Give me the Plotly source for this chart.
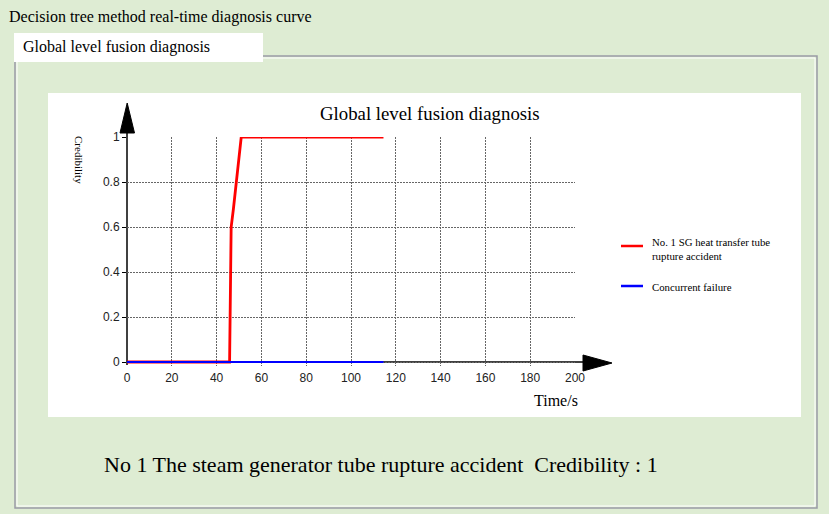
import plotly.graph_objects as go

# ---- data ----
fault_time = [0, 45.8, 46.5, 47.5, 51.0, 114.5]
fault_cred = [0, 0, 0.6, 0.68, 1.0, 1.0]
conc_time = [0, 114.5]
conc_cred = [0, 0]
series_names = ["No. 1 SG heat transfer tube<br>rupture accident", "Concurrent failure"]
series_colors = ["#ff0000", "#0000ff"]
x_ticks = [0, 20, 40, 60, 80, 100, 120, 140, 160, 180, 200]
y_ticks = [0, 0.2, 0.4, 0.6, 0.8, 1]
y_tick_text = ["0", "0.2", "0.4", "0.6", "0.8", "1"]

W, H = 829, 514
L, R = 127, 575    # pixel of x=0 and x=200
Y0, T = 362, 137   # pixel of y=0 and y=1
EXT = 4            # extra pixels below y=0 so the zero-level lines are not clipped
Bp = Y0 + EXT
y_min = -EXT / (Y0 - T)


def px(x):
    return (x - L) / (R - L)


def py(y):
    return (Bp - y) / (Bp - T)


GREEN = "#deecd3"
SERIF = "Liberation Serif, Times New Roman, serif"
SANS = "Liberation Sans, Arial, sans-serif"

fig = go.Figure()
fig.add_trace(go.Scatter(x=fault_time, y=fault_cred, mode="lines",
                         line=dict(color=series_colors[0], width=2.8),
                         name=series_names[0]))
fig.add_trace(go.Scatter(x=conc_time, y=conc_cred, mode="lines",
                         line=dict(color=series_colors[1], width=2.2),
                         name=series_names[1]))

shapes = []
# outer frame (3D-ish)
shapes.append(dict(type="rect", xref="paper", yref="paper",
                   x0=px(15), x1=px(817), y0=py(56), y1=py(508),
                   line=dict(color="#9a9aa6", width=1.5), fillcolor=GREEN, layer="below"))
shapes.append(dict(type="rect", xref="paper", yref="paper",
                   x0=px(17), x1=px(815), y0=py(58), y1=py(506),
                   line=dict(color="#ffffff", width=1), fillcolor=GREEN, layer="below"))
# tab
shapes.append(dict(type="rect", xref="paper", yref="paper",
                   x0=px(14), x1=px(263), y0=py(33), y1=py(62),
                   line=dict(width=0), fillcolor="#ffffff", layer="below"))
# white chart panel
shapes.append(dict(type="rect", xref="paper", yref="paper",
                   x0=px(48), x1=px(801), y0=py(93), y1=py(417),
                   line=dict(width=0), fillcolor="#ffffff", layer="below"))
# axis lines (between gridlines and traces)
shapes.append(dict(type="line", xref="paper", yref="paper",
                   x0=px(127), x1=px(584), y0=py(Y0), y1=py(Y0), layer="between",
                   line=dict(color="#000000", width=1.5)))
shapes.append(dict(type="line", xref="paper", yref="paper",
                   x0=0, x1=0, y0=py(365), y1=py(133), layer="between",
                   line=dict(color="#000000", width=1.5)))
# arrows
shapes.append(dict(type="path", xref="paper", yref="paper",
                   path=f"M {px(120)} {py(133)} L {px(134.5)} {py(133)} L {px(127.2)} {py(103)} Z",
                   fillcolor="#000000", line=dict(color="#000000", width=1)))
shapes.append(dict(type="path", xref="paper", yref="paper",
                   path=f"M {px(583)} {py(355)} L {px(583)} {py(371)} L {px(612)} {py(363)} Z",
                   fillcolor="#000000", line=dict(color="#000000", width=1)))
# legend samples
shapes.append(dict(type="line", xref="paper", yref="paper",
                   x0=px(621), x1=px(643), y0=py(246), y1=py(246),
                   line=dict(color=series_colors[0], width=2.5)))
shapes.append(dict(type="line", xref="paper", yref="paper",
                   x0=px(621), x1=px(643), y0=py(286), y1=py(286),
                   line=dict(color=series_colors[1], width=2.5)))

annotations = [
    dict(text="Decision tree method real-time diagnosis curve", x=px(7), y=py(17),
         xanchor="left", yanchor="middle", font=dict(family=SERIF, size=16, color="#000")),
    dict(text="Global level fusion diagnosis", x=px(21), y=py(47),
         xanchor="left", yanchor="middle", font=dict(family=SERIF, size=16, color="#000")),
    dict(text="Global level fusion diagnosis", x=px(430), y=py(113),
         xanchor="center", yanchor="middle", font=dict(family=SERIF, size=18.8, color="#000")),
    dict(text="Credibility", x=px(79), y=py(160), textangle=90,
         xanchor="center", yanchor="middle", font=dict(family=SERIF, size=11, color="#000")),
    dict(text="Time/s", x=px(580), y=py(400),
         xanchor="right", yanchor="middle", font=dict(family=SERIF, size=16, color="#000")),
    dict(text=series_names[0], x=px(650), y=py(249), align="left",
         xanchor="left", yanchor="middle", font=dict(family=SERIF, size=10.8, color="#000")),
    dict(text=series_names[1], x=px(650), y=py(287),
         xanchor="left", yanchor="middle", font=dict(family=SERIF, size=10.8, color="#000")),
    dict(text="No 1 The steam generator tube rupture accident&nbsp;&nbsp;Credibility : 1",
         x=px(102), y=py(464), xanchor="left", yanchor="middle",
         font=dict(family=SERIF, size=22, color="#000")),
]
for a in annotations:
    a.update(xref="paper", yref="paper", showarrow=False)

fig.update_layout(
    width=W, height=H,
    margin=dict(l=L, r=W - R, t=T, b=H - Bp, pad=0),
    paper_bgcolor=GREEN, plot_bgcolor="#ffffff",
    showlegend=False,
    shapes=shapes, annotations=annotations,
    xaxis=dict(range=[0, 200], tickvals=x_ticks, ticktext=[str(v) for v in x_ticks],
               showgrid=True, gridcolor="#666666", griddash="2px,1px", gridwidth=1,
               zeroline=False, showline=False, ticks="", ticklabelstandoff=3,
               tickfont=dict(family=SANS, size=12, color="#222")),
    yaxis=dict(range=[y_min, 1], tickvals=y_ticks, ticktext=y_tick_text,
               showgrid=True, gridcolor="#666666", griddash="2px,1px", gridwidth=1,
               zeroline=False, showline=False, ticks="outside", ticklen=4,
               tickcolor="#000", tickfont=dict(family=SANS, size=12, color="#222")),
)

fig.write_html("out.html", config={"displayModeBar": False},
               post_script="document.body.style.margin='0px';document.body.style.overflow='hidden';")
